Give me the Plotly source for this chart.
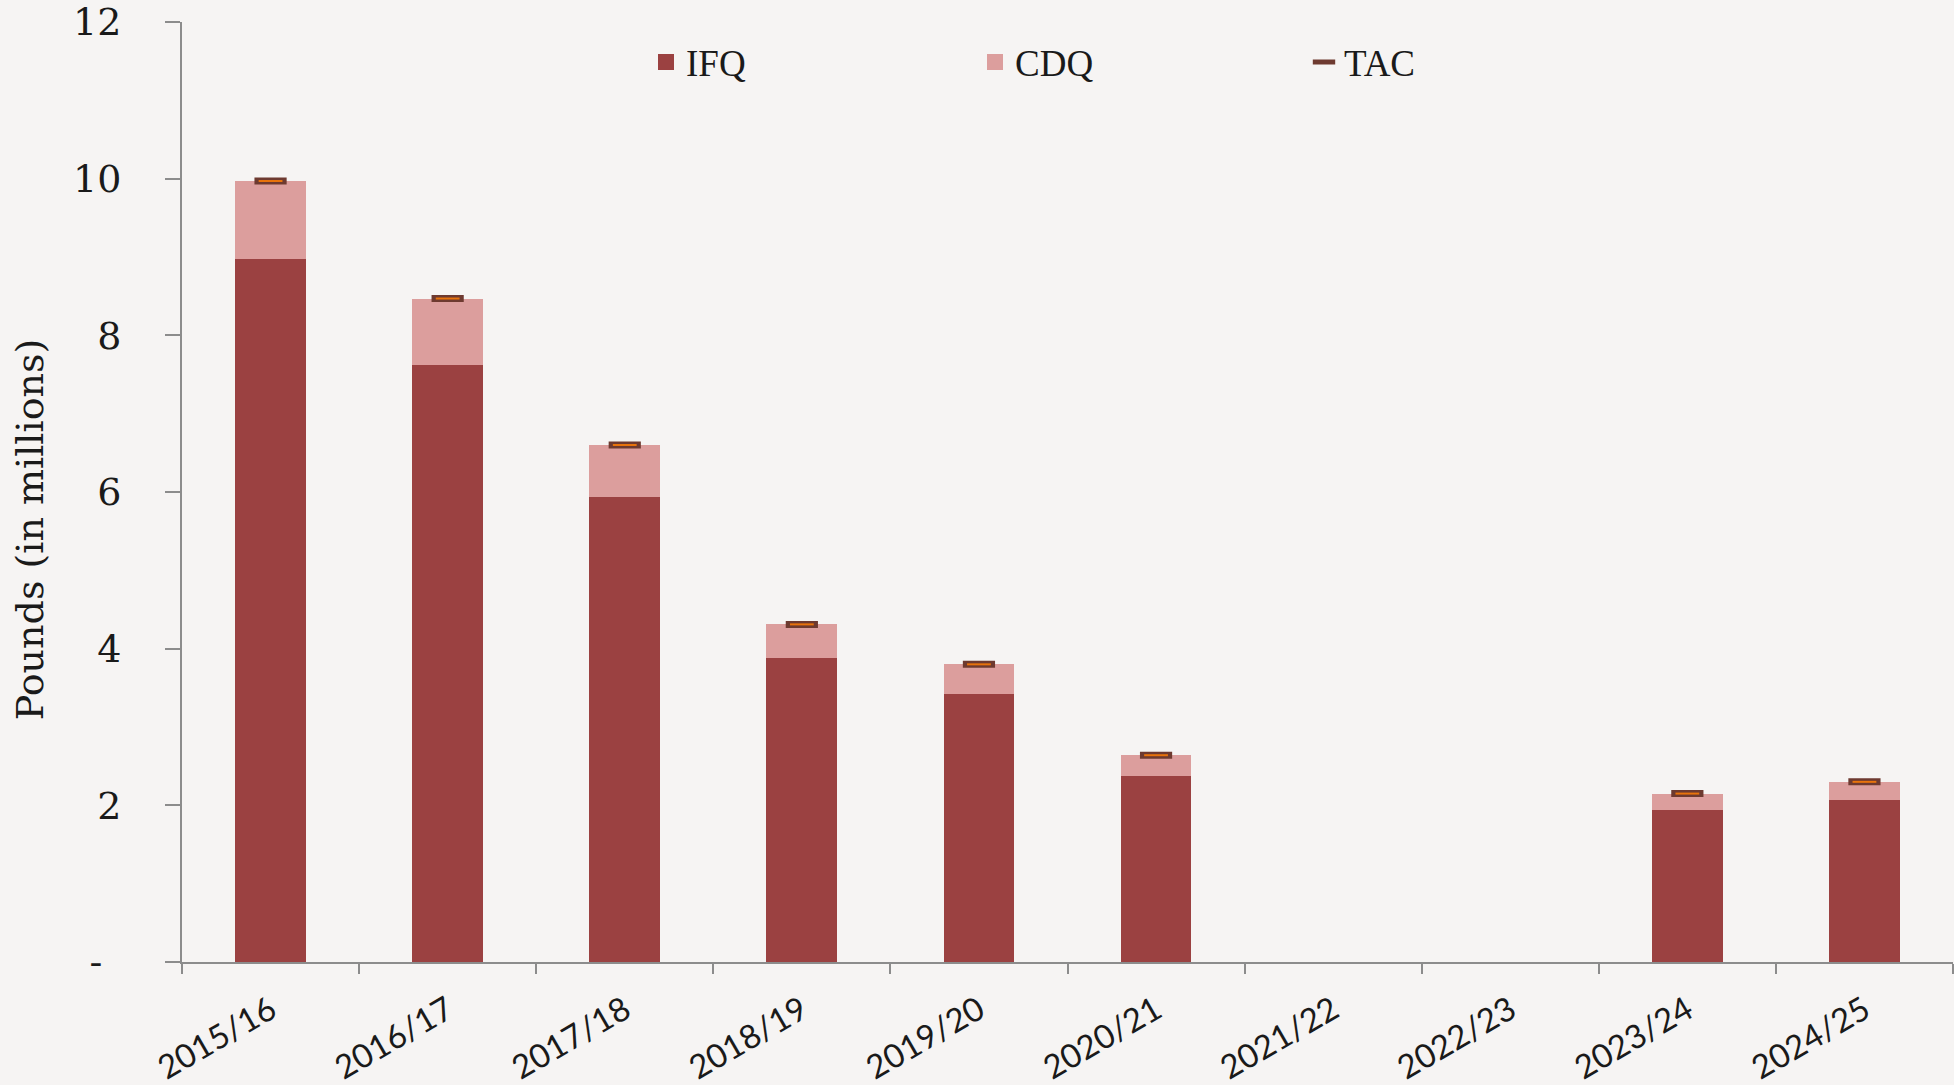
import plotly.graph_objects as go

# Crab quota by season, pounds in millions
seasons = ['2015/16', '2016/17', '2017/18', '2018/19', '2019/20',
           '2020/21', '2021/22', '2022/23', '2023/24', '2024/25']
ifq = [8.97, 7.62, 5.94, 3.88, 3.42, 2.38, None, None, 1.94, 2.07]
cdq = [1.00, 0.85, 0.66, 0.43, 0.38, 0.26, None, None, 0.21, 0.23]
tac = [9.97, 8.47, 6.60, 4.31, 3.80, 2.64, None, None, 2.15, 2.30]

y_ticks = [0, 2, 4, 6, 8, 10, 12]
y_tick_text = ['-\u2002', '2', '4', '6', '8', '10', '12']

BG = '#f6f4f3'
AXIS = '#8c8c8c'
SERIF = 'DejaVu Serif'
IFQ_COLOR = '#9b4141'
CDQ_COLOR = '#dc9e9d'


def build_chart():
    fig = go.Figure()

    # Stacked bars (legend comes from the dummy traces below, bigger squares)
    fig.add_trace(go.Bar(
        x=seasons, y=ifq, name='IFQ', legendgroup='ifq', showlegend=False,
        marker=dict(color=IFQ_COLOR, line=dict(width=0))
    ))
    fig.add_trace(go.Bar(
        x=seasons, y=cdq, name='CDQ', legendgroup='cdq', showlegend=False,
        marker=dict(color=CDQ_COLOR, line=dict(width=0))
    ))

    # TAC marker: dark outline with an orange bar inside
    fig.add_trace(go.Scatter(
        x=seasons, y=tac, name='TAC', mode='markers',
        legendgroup='tac', showlegend=False,
        marker=dict(symbol='line-ew', size=23,
                    line=dict(color='#6e3a30', width=7))
    ))
    fig.add_trace(go.Scatter(
        x=seasons, y=tac, name='TAC', mode='markers',
        legendgroup='tac', showlegend=False,
        marker=dict(symbol='line-ew', size=17,
                    line=dict(color='#e8730c', width=2))
    ))

    # legend entries
    fig.add_trace(go.Scatter(
        x=[None], y=[None], name='IFQ', mode='markers', legendgroup='ifq',
        marker=dict(symbol='square', size=20, color=IFQ_COLOR)
    ))
    fig.add_trace(go.Scatter(
        x=[None], y=[None], name='CDQ', mode='markers', legendgroup='cdq',
        marker=dict(symbol='square', size=20, color=CDQ_COLOR)
    ))
    fig.add_trace(go.Scatter(
        x=[None], y=[None], name='TAC', mode='markers', legendgroup='tac',
        marker=dict(symbol='line-ew', size=20,
                    line=dict(color='#6e3a30', width=6))
    ))

    fig.update_layout(
        width=1954, height=1085,
        barmode='stack', bargap=0.6,
        paper_bgcolor=BG, plot_bgcolor=BG,
        margin=dict(l=182, r=1, t=22, b=123),
        showlegend=True,
        legend=dict(
            orientation='h', x=0.262, xanchor='left',
            y=0.957, yanchor='middle',
            entrywidth=284, entrywidthmode='pixels',
            itemsizing='trace',
            font=dict(family='Liberation Serif', size=37, color='#1a1a1a'),
            bgcolor='rgba(0,0,0,0)', traceorder='normal'
        ),
        xaxis=dict(
            type='category', categoryorder='array', categoryarray=seasons,
            range=[-0.5, len(seasons) - 0.5], automargin=False,
            tickangle=-30, tickson='boundaries',
            ticks='outside', ticklen=10, tickwidth=2, tickcolor=AXIS,
            ticklabelstandoff=14,
            showline=True, linecolor=AXIS, linewidth=2,
            showgrid=False, zeroline=False,
            tickfont=dict(family='Lato', size=33, color='#1a1a1a')
        ),
        yaxis=dict(
            range=[0, 12], tickvals=y_ticks, ticktext=y_tick_text,
            automargin=False,
            ticks='outside', ticklen=15, tickwidth=2, tickcolor=AXIS,
            ticklabelstandoff=36, ticklabeloverflow='allow',
            showline=True, linecolor=AXIS, linewidth=2,
            showgrid=False, zeroline=False,
            tickfont=dict(family=SERIF, size=38, color='#1a1a1a')
        ),
    )

    # x axis line runs a little past the y axis, like the original
    fig.add_shape(
        type='line', xref='paper', yref='paper',
        x0=-15 / 1772, x1=0, y0=0, y1=0,
        line=dict(color=AXIS, width=2)
    )

    # y axis title placed by hand, it sits a bit below centre
    fig.add_annotation(
        text='Pounds (in millions)', textangle=-90,
        xref='paper', yref='paper', x=-0.086, y=0.46,
        xanchor='center', yanchor='middle', showarrow=False,
        font=dict(family=SERIF, size=38, color='#1a1a1a')
    )
    return fig


if __name__ == '__main__':
    fig = build_chart()
    fig.write_html('out.html', config={'displayModeBar': False},
                   post_script="document.body.style.margin='0';")
